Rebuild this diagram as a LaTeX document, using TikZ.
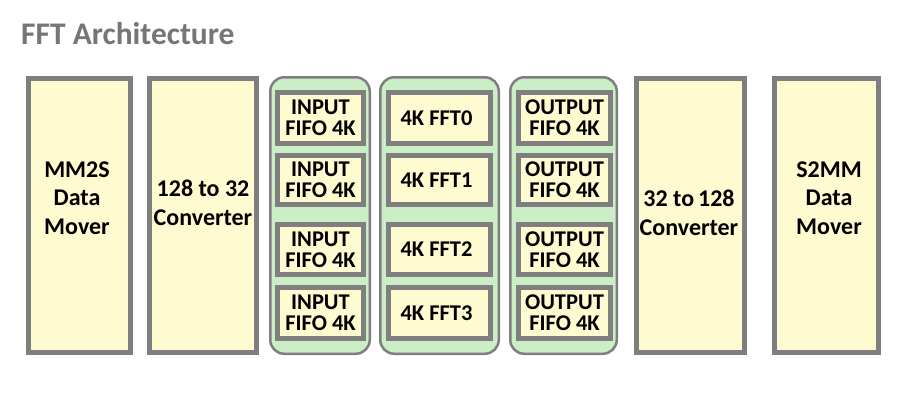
\documentclass[tikz,border=0pt]{standalone}
\usepackage{fontspec}
\setmainfont{Carlito}
\definecolor{bordergray}{RGB}{127,127,127}
\definecolor{boxfill}{RGB}{255,251,208}
\definecolor{groupfill}{RGB}{204,238,198}
\definecolor{titlegray}{RGB}{118,118,118}
\tikzset{
  bigbox/.style={draw=bordergray, line width=5pt, fill=boxfill, minimum height=274pt, inner sep=0pt},
  smallbox/.style={draw=bordergray, line width=5pt, fill=boxfill, minimum height=50pt, inner sep=0pt},
  groupbox/.style={draw=bordergray, line width=2.5pt, fill=groupfill, rounded corners=14pt, minimum height=276.5pt, inner sep=0pt},
  bigtext/.style={align=center, font=\bfseries\fontsize{24}{28.5}\selectfont, inner sep=0pt},
  smalltext/.style={align=center, font=\bfseries\fontsize{22.5}{21}\selectfont, inner sep=0pt},
}
\begin{document}
\begin{tikzpicture}[x=1pt,y=-1pt]
\useasboundingbox (0,0) rectangle (920,400);
\node[anchor=base west, text=titlegray, font=\bfseries\fontsize{31.5}{36}\selectfont, inner sep=0pt] (title) at (21,44) {FFT Architecture};

% big boxes
\node[bigbox, minimum width=102pt] (mm2s) at (79.5,215.5) {};
\node[bigbox, minimum width=107pt] (c128) at (203,215.5) {};
\node[bigbox, minimum width=108pt] (c32) at (690.5,215.5) {};
\node[bigbox, minimum width=104pt] (s2mm) at (826.5,215.5) {};

\node[bigtext] (mm2st) at (77,198) {MM2S\\Data\\Mover};
\node[bigtext] (c128t) at (203,203) {128 to 32\\Converter};
\node[bigtext] (c32t) at (689,213) {32 to\,128\\Converter};
\node[bigtext] (s2mmt) at (829,198) {S2MM\\Data\\Mover};

% groups
\node[groupbox, minimum width=99.5pt] (g1) at (320,215.5) {};
\node[groupbox, minimum width=118.5pt] (g2) at (439.5,215.5) {};
\node[groupbox, minimum width=106.5pt] (g3) at (563.5,215.5) {};

% inner boxes
\foreach \i/\y/\h in {0/118/51, 1/180/49, 2/249.5/50, 3/313/51} {
  \node[smallbox, minimum width=86pt, minimum height=\h pt, smalltext] (in\i) at (320.5,\y) {INPUT\\FIFO 4K};
  \node[smallbox, minimum width=102pt, minimum height=\h pt, smalltext] (fft\i) at (439.5,\y) {\hspace*{-6pt}4K FFT\i};
  \node[smallbox, minimum width=92pt, minimum height=\h pt, smalltext] (out\i) at (564.5,\y) {OUTPUT\\FIFO 4K};
}
\end{tikzpicture}
\end{document}
